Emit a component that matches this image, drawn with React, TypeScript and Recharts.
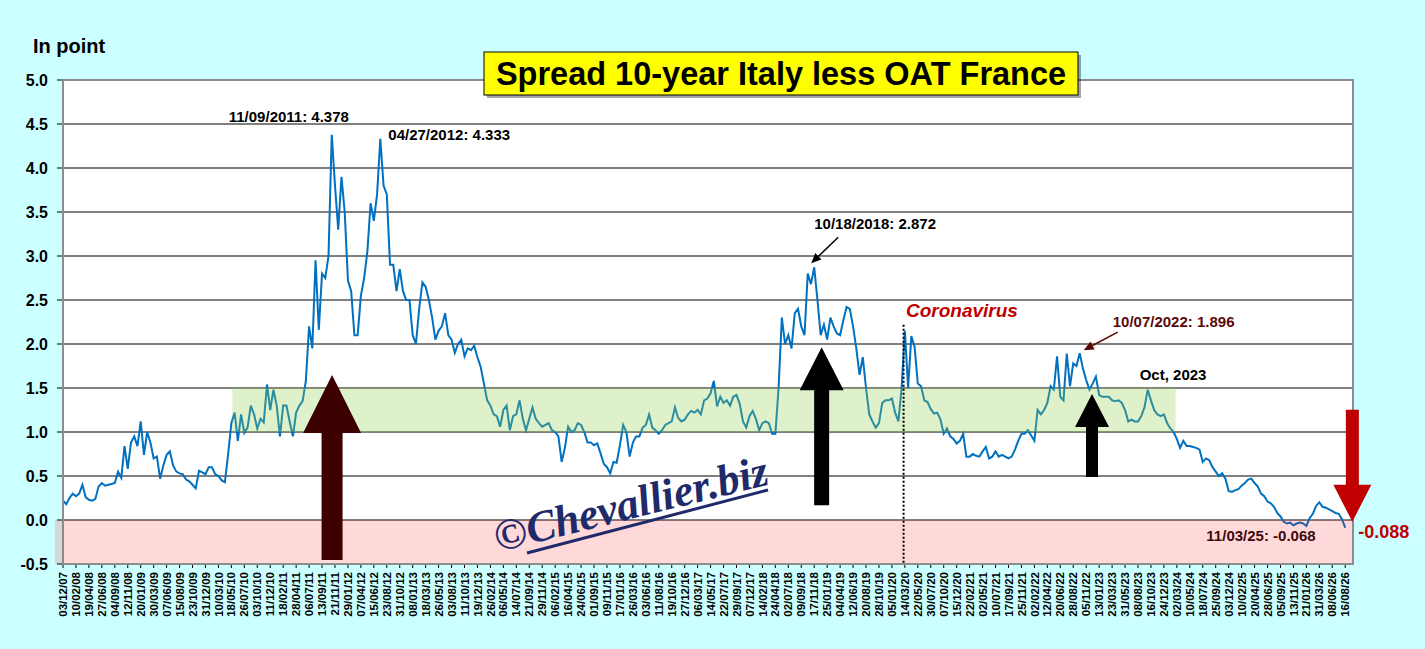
import React from "react";
import {
  LineChart,
  Line,
  XAxis,
  YAxis,
  CartesianGrid,
  ReferenceArea,
  ReferenceLine,
  ReferenceDot,
} from "recharts";

const FONT = "'Liberation Sans', Arial, Helvetica, sans-serif";

// one tick label every 4 readings
const STEPS_PER_TICK = 4;

const TICK_LABELS = [
  "03/12/07", "10/02/08", "19/04/08", "27/06/08", "04/09/08", "12/11/08", "20/01/09", "30/03/09", "07/06/09", "15/08/09",
  "23/10/09", "31/12/09", "10/03/10", "18/05/10", "26/07/10", "03/10/10", "11/12/10", "18/02/11", "28/04/11", "06/07/11",
  "13/09/11", "21/11/11", "29/01/12", "07/04/12", "15/06/12", "23/08/12", "31/10/12", "08/01/13", "18/03/13", "26/05/13",
  "03/08/13", "11/10/13", "19/12/13", "26/02/14", "06/05/14", "14/07/14", "21/09/14", "29/11/14", "06/02/15", "16/04/15",
  "24/06/15", "01/09/15", "09/11/15", "17/01/16", "26/03/16", "03/06/16", "11/08/16", "19/10/16", "27/12/16", "06/03/17",
  "14/05/17", "22/07/17", "29/09/17", "07/12/17", "14/02/18", "24/04/18", "02/07/18", "09/09/18", "17/11/18", "25/01/19",
  "04/04/19", "12/06/19", "20/08/19", "28/10/19", "05/01/20", "14/03/20", "22/05/20", "30/07/20", "07/10/20", "15/12/20",
  "22/02/21", "02/05/21", "10/07/21", "17/09/21", "25/11/21", "02/02/22", "12/04/22", "20/06/22", "28/08/22", "05/11/22",
  "13/01/23", "23/03/23", "31/05/23", "08/08/23", "16/10/23", "24/12/23", "02/03/24", "10/05/24", "18/07/24", "25/09/24",
  "03/12/24", "10/02/25", "20/04/25", "28/06/25", "05/09/25", "13/11/25", "21/01/26", "31/03/26", "08/06/26", "16/08/26",
];

const Y_TICKS = [-0.5, 0, 0.5, 1, 1.5, 2, 2.5, 3, 3.5, 4, 4.5, 5];

// spread readings, in points
const SPREAD_2007_2011 = [
  0.22, 0.18, 0.25, 0.3, 0.27, 0.3, 0.4, 0.26, 0.23, 0.22,
  0.24, 0.38, 0.42, 0.39, 0.4, 0.41, 0.42, 0.55, 0.48, 0.84,
  0.58, 0.88, 0.95, 0.84, 1.12, 0.74, 1.0, 0.88, 0.7, 0.72,
  0.47, 0.62, 0.74, 0.78, 0.62, 0.55, 0.53, 0.52, 0.46, 0.44,
  0.4, 0.36, 0.56, 0.54, 0.52, 0.6, 0.6, 0.52, 0.5, 0.45,
  0.43, 0.75, 1.1, 1.22, 0.9, 1.2, 0.99, 1.05, 1.3, 1.2,
  1.04, 1.15, 1.11, 1.54, 1.25, 1.48, 1.3, 0.95, 1.3, 1.3,
  1.12, 0.95, 1.22, 1.3, 1.35, 1.58, 2.2, 1.95, 2.95, 2.16,
];

const SPREAD_2011_2015 = [
  2.8, 2.75, 3.0, 4.378, 3.8, 3.3, 3.9, 3.5, 2.72, 2.6,
  2.1, 2.1, 2.55, 2.75, 3.05, 3.6, 3.4, 3.7, 4.333, 3.8,
  3.7, 2.9, 2.9, 2.6, 2.85, 2.6, 2.5, 2.5, 2.1, 2.0,
  2.4, 2.7, 2.65, 2.5, 2.3, 2.05, 2.15, 2.2, 2.35, 2.1,
  2.05, 1.9, 2.0, 2.05, 1.86, 1.95, 1.93, 1.98, 1.85, 1.74,
  1.55, 1.36, 1.3, 1.2, 1.18, 1.06, 1.25, 1.3, 1.02, 1.18,
  1.2, 1.36, 1.15, 1.02, 1.15, 1.28, 1.15, 1.1, 1.06, 1.08,
  1.1, 1.02, 1.0, 0.95, 0.66, 0.82, 1.06, 1.0, 1.02, 1.1,
  1.08, 1.0, 0.88, 0.88, 0.85, 0.87, 0.76, 0.64, 0.6, 0.53,
  0.66, 0.65,
];

const SPREAD_2015_2019 = [
  0.85, 1.08, 1.0, 0.72, 0.88, 0.95, 0.95, 1.05,
  1.08, 1.2, 1.05, 1.02, 0.98, 1.02, 1.08, 1.1, 1.12, 1.28,
  1.16, 1.12, 1.14, 1.2, 1.24, 1.22, 1.25, 1.2, 1.36, 1.38,
  1.44, 1.58, 1.29, 1.4, 1.33, 1.36, 1.3, 1.4, 1.42, 1.32,
  1.12, 1.05, 1.18, 1.24, 1.15, 1.02, 1.1, 1.12, 1.1, 0.98,
  0.98, 1.5, 2.3, 2.0, 2.1, 1.95, 2.35, 2.4, 2.2, 2.1,
  2.8, 2.68, 2.872, 2.5, 2.1, 2.22, 2.05, 2.3, 2.2, 2.12,
  2.1, 2.27, 2.42, 2.4, 2.2, 1.95, 1.65, 1.85, 1.5, 1.2,
  1.12, 1.05, 1.1,
];

const SPREAD_2019_2023 = [
  1.33, 1.36, 1.36, 1.38, 1.22, 1.12, 1.5, 2.15, 1.5, 2.09, 1.97, 1.55, 1.52, 1.36, 1.34, 1.26, 1.21,
  1.22, 1.14, 0.98, 1.04, 0.95, 0.92, 0.87, 0.9, 0.98, 0.72,
  0.72, 0.75, 0.73, 0.72, 0.78, 0.83, 0.7, 0.72, 0.78, 0.72,
  0.74, 0.72, 0.7, 0.72, 0.8, 0.9, 0.98, 0.98, 1.02, 0.96,
  0.9, 1.25, 1.2, 1.25, 1.33, 1.52, 1.48, 1.86, 1.4, 1.36,
  1.89, 1.52, 1.78, 1.75, 1.896, 1.72, 1.59, 1.48, 1.55, 1.63,
  1.42, 1.4, 1.4, 1.4, 1.36, 1.35, 1.36, 1.33, 1.25, 1.12,
  1.14, 1.12, 1.12, 1.18, 1.28, 1.48, 1.36,
];

const SPREAD_2023_2025 = [
  1.25, 1.2, 1.18, 1.2, 1.1, 1.04, 1.0, 0.92, 0.82, 0.9, 0.84, 0.84, 0.83,
  0.82, 0.8, 0.66, 0.7, 0.68, 0.6, 0.55, 0.5, 0.53, 0.47,
  0.33, 0.32, 0.34, 0.35, 0.39, 0.42, 0.46, 0.47, 0.42, 0.38,
  0.3, 0.27, 0.21, 0.19, 0.15, 0.08, 0.04, -0.02, -0.04, -0.03,
  -0.06, -0.04, -0.03, -0.04, -0.068, 0.02, 0.07, 0.16, 0.2, 0.15,
  0.14, 0.12, 0.1, 0.08, 0.07, 0.01, -0.088,
];

const SPREAD = [
  ...SPREAD_2007_2011,
  ...SPREAD_2011_2015,
  ...SPREAD_2015_2019,
  ...SPREAD_2019_2023,
  ...SPREAD_2023_2025,
];

const data = SPREAD.map((v, i) => ({ i, v }));
const X_TICKS = TICK_LABELS.map((_, k) => k * STEPS_PER_TICK);
const X_MAX = 398.4;

// comfort band 2010 -> 2023 and Covid marker, in reading index
const BAND_START = 52.3;
const BAND_END = 343.6;
const COVID_AT = 259.6;

type Note = {
  x: number;
  y: number;
  text: string;
  dx: number;
  dy: number;
  color: string;
  size: number;
  pointer?: [number, number, number, number];
};

const NOTES: Note[] = [
  { x: 83, y: 4.378, text: "11/09/2011: 4.378", dx: -103, dy: -13, color: "#000", size: 15 },
  { x: 98, y: 4.333, text: "04/27/2012: 4.333", dx: 8, dy: 1, color: "#000", size: 15 },
  { x: 232, y: 2.872, text: "10/18/2018: 2.872", dx: 0, dy: -38, color: "#000", size: 15, pointer: [24, -30, -3, -4] },
  { x: 314, y: 1.896, text: "10/07/2022: 1.896", dx: 33, dy: -26, color: "#5a0a0a", size: 15, pointer: [38, -21, 4, -3] },
  { x: 335, y: 1.48, text: "Oct, 2023", dx: -8, dy: -10, color: "#000", size: 15 },
  { x: 384, y: -0.068, text: "11/03/25: -0.068", dx: -100, dy: 15, color: "#3f0a0a", size: 15 },
  { x: 396, y: -0.088, text: "-0.088", dx: 13, dy: 10, color: "#C00000", size: 18 },
];

type Arrow = {
  x: number;
  y: number;
  dir: 1 | -1;
  head: number;
  headLen: number;
  shaft: number;
  len: number;
  color: string;
};

const ARROWS: Arrow[] = [
  { x: 83.1, y: 1.648, dir: 1, head: 29, headLen: 58, shaft: 10.5, len: 185, color: "#3d0000" },
  { x: 234.3, y: 1.963, dir: 1, head: 22, headLen: 43, shaft: 7.5, len: 158, color: "#000" },
  { x: 317.8, y: 1.432, dir: 1, head: 17, headLen: 33, shaft: 6, len: 83, color: "#000" },
  { x: 398.2, y: -0.019, dir: -1, head: 19, headLen: 37, shaft: 6.5, len: 112, color: "#C00000" },
];

const CHART_W = 1425;
const CHART_H = 649;
const MARGIN = { top: 80, right: 72, bottom: 0, left: 0 };

function DateTick(props: any) {
  const { x, y, payload } = props;
  const label = TICK_LABELS[Math.round(payload.value / STEPS_PER_TICK)] ?? "";
  return (
    <text
      x={x}
      y={y}
      transform={`rotate(-90 ${x} ${y})`}
      textAnchor="end"
      dy="0.36em"
      fontSize={11.5}
      fontWeight="bold"
      fontFamily={FONT}
      fill="#000"
    >
      {label}
    </text>
  );
}

function noteShape(n: Note) {
  return (p: any) => {
    const { cx, cy } = p;
    let arrow = null;
    if (n.pointer) {
      const [x1, y1, x2, y2] = n.pointer;
      const ax = cx + x2;
      const ay = cy + y2;
      const ang = Math.atan2(y2 - y1, x2 - x1);
      const hl = 10;
      const hw = 4.5;
      const bx = ax - hl * Math.cos(ang);
      const by = ay - hl * Math.sin(ang);
      const px = -Math.sin(ang) * hw;
      const py = Math.cos(ang) * hw;
      arrow = (
        <g>
          <line x1={cx + x1} y1={cy + y1} x2={bx} y2={by} stroke={n.color} strokeWidth={1.5} />
          <polygon points={`${ax},${ay} ${bx + px},${by + py} ${bx - px},${by - py}`} fill={n.color} />
        </g>
      );
    }
    return (
      <g>
        {arrow}
        <text
          x={cx + n.dx}
          y={cy + n.dy}
          fontSize={n.size}
          fontWeight="bold"
          fontFamily={FONT}
          fill={n.color}
        >
          {n.text}
        </text>
      </g>
    );
  };
}

function arrowShape(a: Arrow) {
  return (p: any) => {
    const { cx, cy } = p;
    const hb = cy + a.dir * a.headLen;
    const end = cy + a.dir * a.len;
    const pts = [
      [cx, cy],
      [cx + a.head, hb],
      [cx + a.shaft, hb],
      [cx + a.shaft, end],
      [cx - a.shaft, end],
      [cx - a.shaft, hb],
      [cx - a.head, hb],
    ];
    return <polygon points={pts.map((q) => q.join(",")).join(" ")} fill={a.color} />;
  };
}

// the same axes twice: once visible under the line, once invisible in the overlay
function axes(visible: boolean) {
  return [
    <XAxis
      key="x"
      type="number"
      dataKey="i"
      domain={[0, X_MAX]}
      ticks={X_TICKS}
      interval={0}
      height={85}
      tick={visible ? (p: any) => <DateTick {...p} /> : false}
      tickSize={4}
      tickMargin={4}
      axisLine={visible ? { stroke: "#000", strokeWidth: 1.5 } : false}
      tickLine={visible ? { stroke: "#000" } : false}
      allowDataOverflow
    />,
    <YAxis
      key="y"
      type="number"
      domain={[-0.5, 5]}
      ticks={Y_TICKS}
      interval={0}
      width={63}
      tickFormatter={(v: number) => v.toFixed(1)}
      tick={visible ? { fill: "#000", fontSize: 16, fontWeight: "bold", fontFamily: FONT } : false}
      tickSize={6}
      tickMargin={9}
      axisLine={visible ? { stroke: "#000", strokeWidth: 1.5 } : false}
      tickLine={visible ? { stroke: "#000" } : false}
      allowDataOverflow
    />,
  ];
}

export default function App() {
  const layer: React.CSSProperties = { position: "absolute", left: 0, top: 0 };
  return (
    <div style={{ position: "fixed", inset: 0, background: "#CCFFFF", fontFamily: FONT }}>
      <div style={layer}>
        <LineChart width={CHART_W} height={CHART_H} data={data} margin={MARGIN}>
          <CartesianGrid vertical={false} stroke="#000" strokeOpacity={1} fill="#fff" fillOpacity={1} />
          {axes(true)}
          <Line
            type="linear"
            dataKey="v"
            stroke="#0070C0"
            strokeWidth={2}
            dot={false}
            activeDot={false}
            isAnimationActive={false}
          />
        </LineChart>
      </div>
      <div style={{ ...layer, pointerEvents: "none" }}>
        <LineChart width={CHART_W} height={CHART_H} data={data} margin={MARGIN}>
          {axes(false)}
          <ReferenceArea
            x1={BAND_START}
            x2={BAND_END}
            y1={1}
            y2={1.5}
            fill="#92D050"
            fillOpacity={0.3}
            stroke="none"
          />
          <ReferenceArea
            x1={-2.5}
            x2={X_MAX}
            y1={-0.5}
            y2={0}
            fill="#FF0000"
            fillOpacity={0.15}
            stroke="none"
            ifOverflow="visible"
          />
          <ReferenceArea
            x1={0}
            x2={X_MAX}
            y1={-0.5}
            y2={5}
            fill="none"
            stroke="#8c8c8c"
            strokeWidth={2}
          />
          <ReferenceLine
            segment={[
              { x: COVID_AT, y: 2.22 },
              { x: COVID_AT, y: -0.5 },
            ]}
            stroke="#000"
            strokeWidth={2}
            strokeDasharray="2 2"
          />
          {ARROWS.map((a, k) => (
            <ReferenceDot key={`a${k}`} x={a.x} y={a.y} r={1} shape={arrowShape(a)} />
          ))}
          {NOTES.map((n, k) => (
            <ReferenceDot key={`n${k}`} x={n.x} y={n.y} r={1} shape={noteShape(n)} />
          ))}
        </LineChart>
      </div>
      <svg width={CHART_W} height={CHART_H} style={{ ...layer, pointerEvents: "none" }}>
        <text x={33} y={53} fontSize={20} fontWeight="bold" fontFamily={FONT} fill="#000">
          In point
        </text>
        <rect x={487} y={55} width={594} height={43} fill="#000" opacity={0.35} />
        <rect x={484} y={52} width={594} height={43} fill="#FFFF00" stroke="#000" strokeWidth={1} />
        <text
          x={781}
          y={85}
          textAnchor="middle"
          fontSize={32.5}
          fontWeight="bold"
          fontFamily={FONT}
          fill="#000"
        >
          Spread 10-year Italy less OAT France
        </text>
        <text x={906} y={317} fontSize={19} fontWeight="bold" fontStyle="italic" fontFamily={FONT} fill="#C00000">
          Coronavirus
        </text>
        <g>
          <text
            x={498}
            y={552}
            transform="rotate(-14 498 552)"
            fontSize={44}
            fontWeight="bold"
            fontStyle="italic"
            fontFamily="'Liberation Serif', 'DejaVu Serif', serif"
            fill="#1F2A6B"
          >
            ©Chevallier.biz
          </text>
          <line x1={527} y1={553} x2={768} y2={490} stroke="#1F2A6B" strokeWidth={3} />
        </g>
      </svg>
    </div>
  );
}
